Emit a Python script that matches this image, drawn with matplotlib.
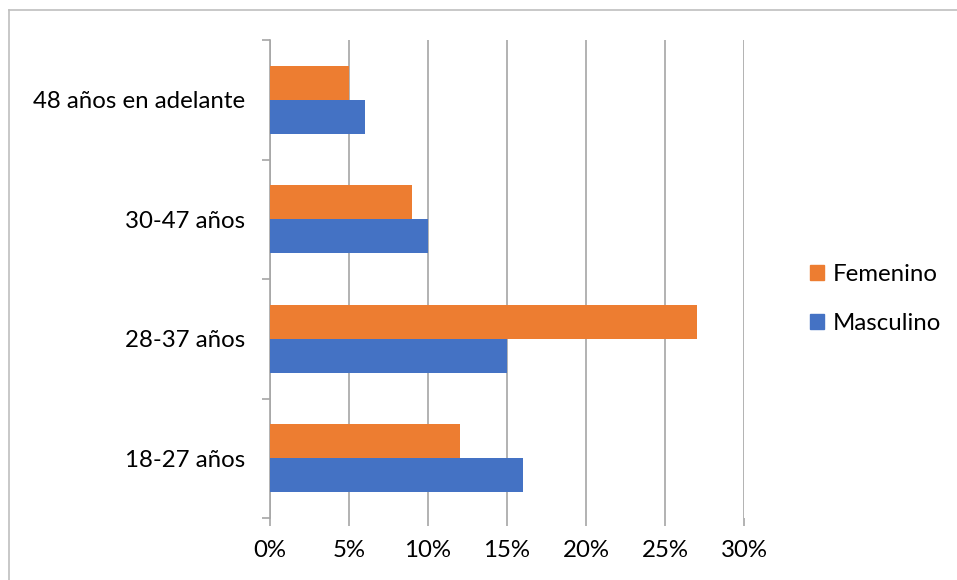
import numpy as np
import matplotlib
matplotlib.use("Agg")
import matplotlib.pyplot as plt
from matplotlib.lines import Line2D
from matplotlib.patches import Patch

# data
categories = ["18-27 años", "28-37 años", "30-47 años", "48 años en adelante"]
masculino = [16, 15, 10, 6]
femenino = [12, 27, 9, 5]
x_ticks = [0, 5, 10, 15, 20, 25, 30]

plt.rcParams['font.family'] = ['Lato', 'DejaVu Sans']
fs = 17.3
blue = "#4472C4"
orange = "#ED7D31"
grid_col = "#a6a6a6"

fig = plt.figure(figsize=(9.57, 5.8), dpi=100)
ax = fig.add_axes([270 / 957, 1 - 518 / 580, (744 - 270) / 957, (518 - 40) / 580])

y = np.arange(len(categories))
h = 0.285
ax.barh(y - h / 2, masculino, height=h, color=blue, label="Masculino", zorder=3)
ax.barh(y + h / 2, femenino, height=h, color=orange, label="Femenino", zorder=3)

ax.set_xlim(0, 30)
ax.set_ylim(-0.5, len(categories) - 0.5)
ax.set_xticks(x_ticks)
ax.set_xticklabels([f"{t}%" for t in x_ticks], fontsize=fs)
ax.xaxis.grid(True, color=grid_col, linewidth=1.2, zorder=0)
ax.tick_params(axis='x', length=6, width=1.2, color=grid_col, pad=10)

# category boundary ticks and centered labels
ax.set_yticks(np.arange(len(categories) + 1) - 0.5)
ax.set_yticklabels([])
ax.set_yticks(y, minor=True)
ax.set_yticklabels(categories, minor=True, fontsize=fs)
ax.tick_params(axis='y', which='major', length=6, width=1.2, color=grid_col)
ax.tick_params(axis='y', which='minor', length=0, pad=18)

for s in ["top", "right", "bottom"]:
    ax.spines[s].set_visible(False)
ax.spines["left"].set_color(grid_col)
ax.spines["left"].set_linewidth(1.2)

handles = [Patch(color=orange, label="Femenino"), Patch(color=blue, label="Masculino")]
fig.legend(handles=handles, loc="center left", bbox_to_anchor=(810 / 957, 1 - 299 / 580),
           frameon=False, fontsize=fs, handlelength=0.6, handleheight=0.6,
           handletextpad=0.35, labelspacing=1.15, borderpad=0, borderaxespad=0)

# outer chart border (left and top visible)
fig.add_artist(Line2D([9 / 957, 9 / 957], [0, 1 - 10 / 580], transform=fig.transFigure,
                      color="#bfbfbf", linewidth=1.2))
fig.add_artist(Line2D([9 / 957, 1], [1 - 10 / 580, 1 - 10 / 580], transform=fig.transFigure,
                      color="#bfbfbf", linewidth=1.2))

fig.savefig("out.png", dpi=100)
